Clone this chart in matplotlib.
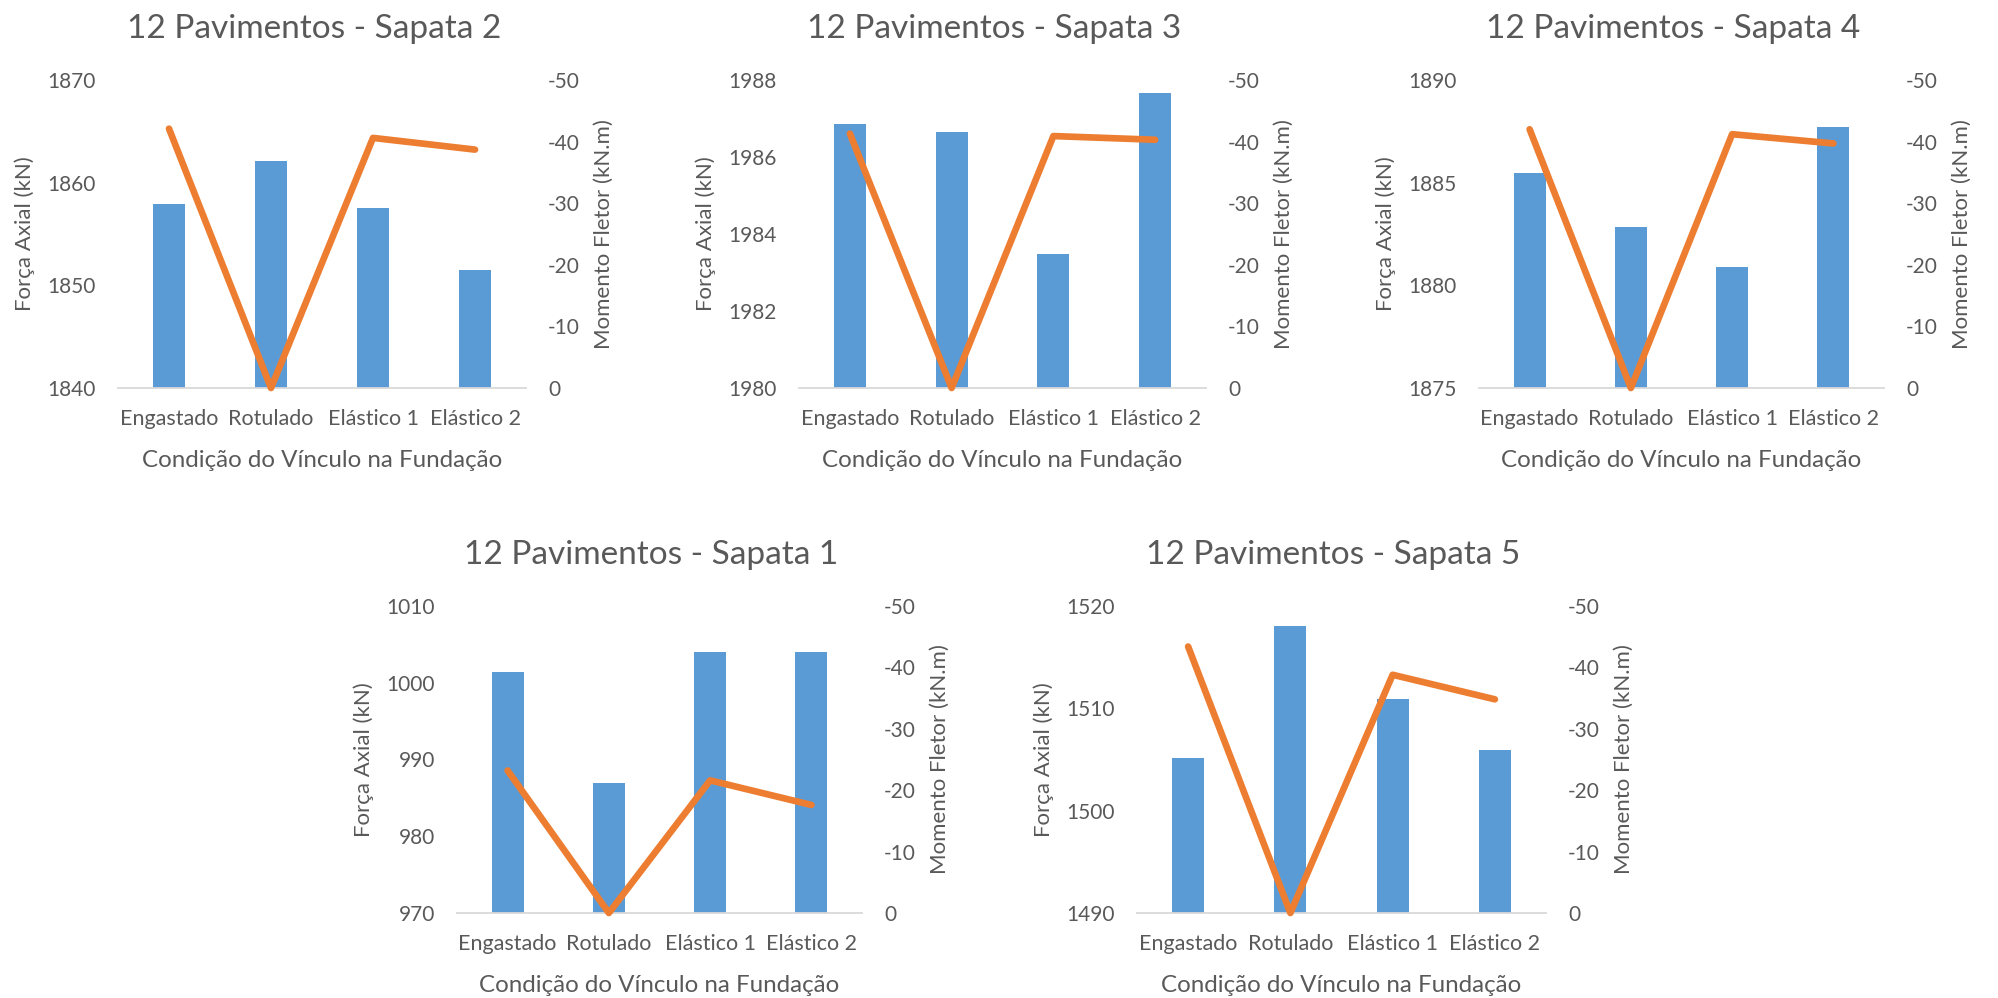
import matplotlib
matplotlib.use("Agg")
import matplotlib.pyplot as plt
import numpy as np

plt.rcParams['font.family'] = ['Lato', 'DejaVu Sans']
plt.rcParams['axes.unicode_minus'] = False

categorias = ["Engastado", "Rotulado", "Elástico 1", "Elástico 2"]

# Força axial (kN) por sapata
axial_s1 = [1001.4, 987.0, 1004.0, 1004.0]
axial_s2 = [1857.9, 1862.1, 1857.5, 1851.5]
axial_s3 = [1986.87, 1986.66, 1983.48, 1987.65]
axial_s4 = [1885.45, 1882.85, 1880.87, 1887.69]
axial_s5 = [1505.1, 1518.0, 1510.9, 1505.9]

# Momento fletor (kN.m) por sapata
momento_s1 = [-23.2, 0.0, -21.6, -17.6]
momento_s2 = [-42.1, 0.0, -40.6, -38.7]
momento_s3 = [-41.3, 0.0, -40.9, -40.3]
momento_s4 = [-42.0, 0.0, -41.2, -39.7]
momento_s5 = [-43.4, 0.0, -38.8, -34.8]

AZUL = '#5B9BD5'
LARANJA = '#ED7D31'
CINZA = '#595959'
W, H = 1998, 998


def grafico(rect, titulo, axial, momento, ylim, ystep):
    x0, y0, w, h = rect
    ax = fig.add_axes([x0 / W, 1 - (y0 + h) / H, w / W, h / H])
    x = np.arange(len(categorias))
    ax.bar(x, axial, width=0.315, color=AZUL, zorder=2)
    ax.set_xlim(-0.5, len(categorias) - 0.5)
    ax.set_ylim(*ylim)
    ax.set_yticks(np.arange(ylim[0], ylim[1] + ystep / 2, ystep))
    ax.set_xticks(x)
    ax.set_xticklabels(categorias)
    for s in ['top', 'left', 'right']:
        ax.spines[s].set_visible(False)
    ax.spines['bottom'].set_color('#D9D9D9')
    ax.spines['bottom'].set_linewidth(1.3)
    ax.tick_params(axis='both', length=0, labelsize=15, colors=CINZA)
    ax.tick_params(axis='x', pad=15, labelsize=15.5)
    ax.tick_params(axis='y', pad=16)
    ax.set_ylabel("Força Axial (kN)", fontsize=16, color=CINZA, labelpad=9)
    ax.set_xlabel("Condição do Vínculo na Fundação", fontsize=17.4, color=CINZA, labelpad=15)

    ax2 = ax.twinx()
    ax2.plot(x, momento, color=LARANJA, lw=4.8, clip_on=False,
             solid_capstyle='round', zorder=3)
    ax2.set_ylim(0, -50)
    ax2.set_yticks([0, -10, -20, -30, -40, -50])
    for s in ['top', 'left', 'right', 'bottom']:
        ax2.spines[s].set_visible(False)
    ax2.tick_params(axis='y', length=0, labelsize=15, colors=CINZA, pad=16)
    ax2.set_ylabel("Momento Fletor (kN.m)", fontsize=16, color=CINZA, labelpad=10)

    # titulo ligeiramente à esquerda do centro da área de plotagem
    fig.text((x0 + w / 2 - 8) / W, 1 - (y0 - 51) / H, titulo, fontsize=24,
             color=CINZA, ha='center', va='center')


fig = plt.figure(figsize=(W / 100, H / 100), dpi=100)

grafico((118, 80, 408, 308), "12 Pavimentos - Sapata 2",
        axial_s2, momento_s2, (1840, 1870), 10)
grafico((799, 80, 407, 308), "12 Pavimentos - Sapata 3",
        axial_s3, momento_s3, (1980, 1988), 2)
grafico((1479, 80, 405, 308), "12 Pavimentos - Sapata 4",
        axial_s4, momento_s4, (1875, 1890), 5)
grafico((457, 606, 405, 307), "12 Pavimentos - Sapata 1",
        axial_s1, momento_s1, (970, 1010), 10)
grafico((1137, 606, 409, 307), "12 Pavimentos - Sapata 5",
        axial_s5, momento_s5, (1490, 1520), 10)

fig.savefig("out.png", dpi=100, facecolor='white')
